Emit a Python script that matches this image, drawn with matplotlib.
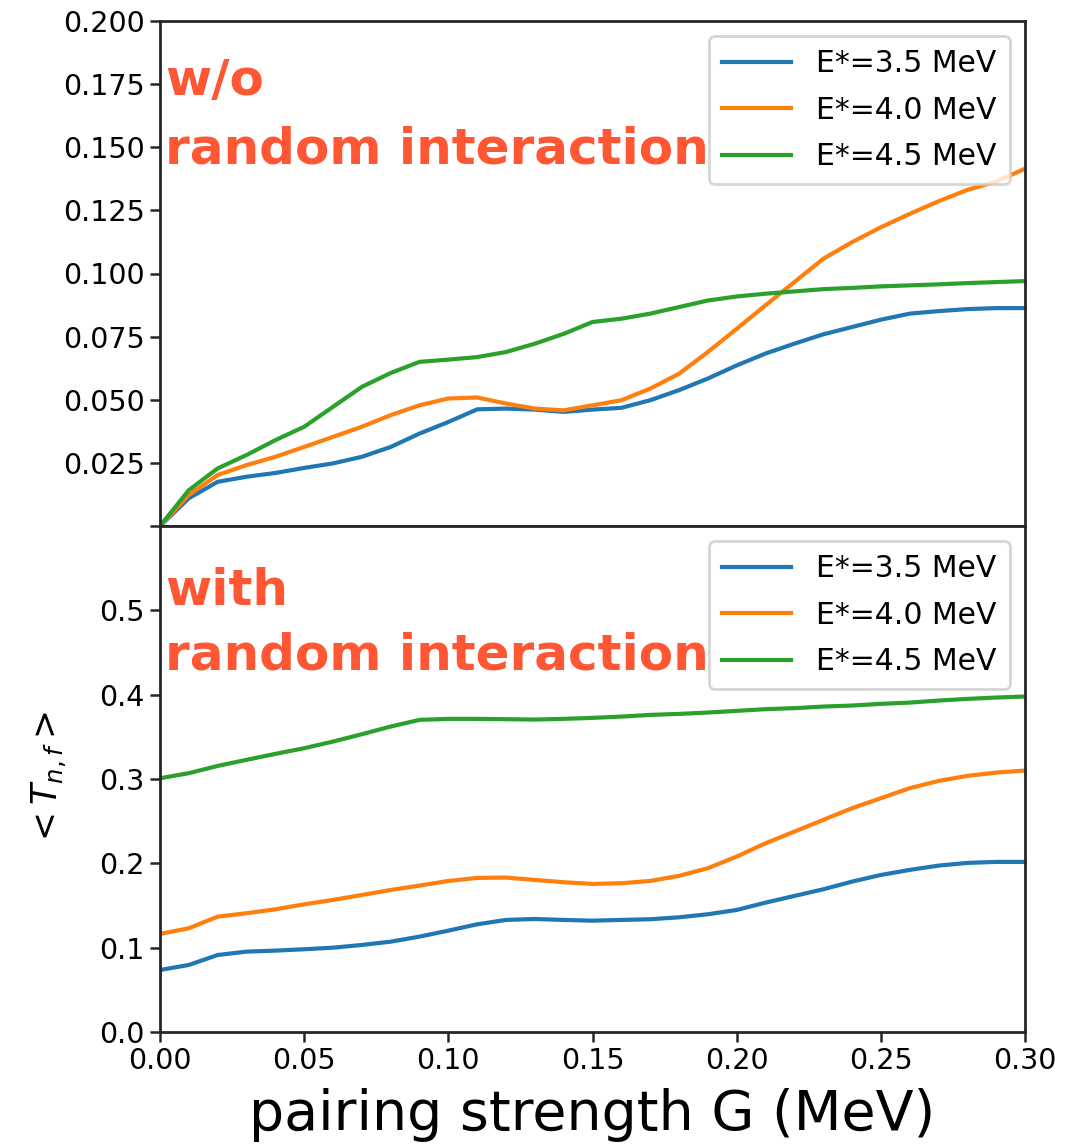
import matplotlib
matplotlib.use('Agg')
import matplotlib.pyplot as plt
import numpy as np

# pairing strength grid (MeV)
G = [0.00, 0.01, 0.02, 0.03, 0.04, 0.05, 0.06, 0.07, 0.08, 0.09,
     0.10, 0.11, 0.12, 0.13, 0.14, 0.15, 0.16, 0.17, 0.18, 0.19,
     0.20, 0.21, 0.22, 0.23, 0.24, 0.25, 0.26, 0.27, 0.28, 0.29, 0.30]

labels = ['E*=3.5 MeV', 'E*=4.0 MeV', 'E*=4.5 MeV']

# w/o random interaction
top_35 = [0.0, 0.011, 0.0175, 0.0195, 0.021, 0.023, 0.0248, 0.0274, 0.0313, 0.0366,
          0.0412, 0.0462, 0.0465, 0.0461, 0.0452, 0.0461, 0.0468, 0.0498, 0.0538, 0.0584,
          0.0636, 0.0683, 0.0722, 0.0759, 0.0788, 0.0817, 0.0841, 0.0851, 0.0859, 0.0863, 0.0863]
top_40 = [0.0, 0.0123, 0.0202, 0.0241, 0.0274, 0.0313, 0.0353, 0.0393, 0.0439, 0.0478,
          0.0505, 0.0509, 0.0485, 0.0465, 0.0458, 0.0478, 0.0498, 0.0544, 0.0603, 0.0689,
          0.0781, 0.0874, 0.0966, 0.1058, 0.1124, 0.1183, 0.1236, 0.1286, 0.1331, 0.1364, 0.1415]
top_45 = [0.0, 0.0142, 0.0228, 0.0281, 0.034, 0.0393, 0.0472, 0.0551, 0.0606, 0.065,
          0.0659, 0.0669, 0.0689, 0.0722, 0.0761, 0.0808, 0.0821, 0.0841, 0.0867, 0.0893,
          0.0909, 0.092, 0.0929, 0.0938, 0.0943, 0.0949, 0.0953, 0.0957, 0.0962, 0.0966, 0.097]

# with random interaction
bot_35 = [0.0735, 0.0795, 0.0913, 0.0953, 0.0965, 0.0981, 0.100, 0.1032, 0.1071, 0.1131,
          0.1202, 0.1277, 0.1329, 0.134, 0.1329, 0.132, 0.1329, 0.1337, 0.136, 0.1396,
          0.1447, 0.1534, 0.1613, 0.1692, 0.1783, 0.1862, 0.1922, 0.1973, 0.2005, 0.2017, 0.2017]
bot_40 = [0.1163, 0.123, 0.1368, 0.1408, 0.1455, 0.1514, 0.1566, 0.1625, 0.1684, 0.1736,
          0.1791, 0.1827, 0.1831, 0.1803, 0.1776, 0.1756, 0.1764, 0.1791, 0.1851, 0.1942,
          0.208, 0.2238, 0.2376, 0.2515, 0.2654, 0.2772, 0.2891, 0.2977, 0.3037, 0.3076, 0.31]
bot_45 = [0.3009, 0.3069, 0.3155, 0.3227, 0.3298, 0.3365, 0.3444, 0.3531, 0.3622, 0.3701,
          0.3713, 0.3713, 0.3709, 0.3705, 0.3713, 0.3725, 0.374, 0.376, 0.3772, 0.3788,
          0.3808, 0.3828, 0.384, 0.3859, 0.3871, 0.3891, 0.3906, 0.393, 0.395, 0.3966, 0.3978]

top_yticks = [0.0, 0.025, 0.050, 0.075, 0.100, 0.125, 0.150, 0.175, 0.200]
bot_yticks = [0.0, 0.1, 0.2, 0.3, 0.4, 0.5]
xticks = [0.00, 0.05, 0.10, 0.15, 0.20, 0.25, 0.30]

red = '#ff5733'
W, H = 1078, 1148

fig = plt.figure(figsize=(W/100, H/100), dpi=100)
ax1 = fig.add_axes([160/W, 1-526/H, 865/W, 505/H])
ax2 = fig.add_axes([160/W, 1-1032/H, 865/W, 506/H], sharex=ax1)

for ax in (ax1, ax2):
    for s in ax.spines.values():
        s.set_linewidth(2.0)
        s.set_color('#262626')
    ax.tick_params(labelsize=20.5, length=7.5, width=1.8, color='#262626')

for y, lab in zip([top_35, top_40, top_45], labels):
    ax1.plot(G, y, lw=3, label=lab)
for y, lab in zip([bot_35, bot_40, bot_45], labels):
    ax2.plot(G, y, lw=3, label=lab)

ax1.set_xlim(0, 0.30)
ax1.set_ylim(0, 0.2)
ax1.set_yticks(top_yticks)
ax1.set_yticklabels([''] + ['%.3f' % v for v in top_yticks[1:]])
ax1.tick_params(axis='x', bottom=False, labelbottom=False)

ax2.set_ylim(0, 0.6)
ax2.set_yticks(bot_yticks)
ax2.set_yticklabels(['%.1f' % v for v in bot_yticks])
ax2.set_xticks(xticks)
ax2.set_xticklabels(['%.2f' % v for v in xticks])

leg_kw = dict(loc='upper right', fontsize=21.5, handlelength=2.3, framealpha=0.8,
              borderpad=0.45, labelspacing=0.58, handletextpad=0.85)
for ax in (ax1, ax2):
    leg = ax.legend(**leg_kw)
    leg.get_frame().set_linewidth(2.0)

# panel annotations, one text per line (baselines)
txt_kw = dict(transform=fig.transFigure, ha='left', va='baseline', color=red,
              fontsize=36, fontweight='bold', family='DejaVu Sans')
fig.text(165/W, 1-95/H, 'w/o', **txt_kw)
fig.text(165/W, 1-164/H, 'random interaction', **txt_kw)
fig.text(165/W, 1-605/H, 'with', **txt_kw)
fig.text(165/W, 1-670/H, 'random interaction', **txt_kw)

ax2.set_ylabel(r'$<T_{n,f}>$', fontsize=25, labelpad=22)
ax2.set_xlabel('pairing strength G (MeV)', fontsize=40, labelpad=9)

fig.savefig('out.png', dpi=100)
